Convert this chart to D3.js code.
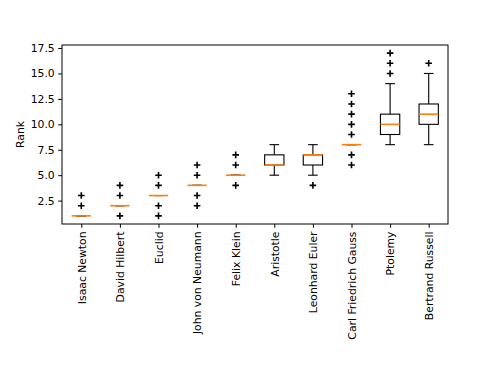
<!DOCTYPE html>
<html>
<head>
<meta charset="utf-8">
<script src="https://cdn.jsdelivr.net/npm/d3@7"></script>
<style>
  html, body { margin: 0; padding: 0; background: #fff; }
  svg { display: block; font-family: "DejaVu Sans", sans-serif; }
</style>
</head>
<body>
<div id="chart"></div>
<script>
// ── Data ────────────────────────────────────────────────────────────────────
const NAMES = ['Isaac Newton', 'David Hilbert', 'Euclid', 'John von Neumann', 'Felix Klein',
  'Aristotle', 'Leonhard Euler', 'Carl Friedrich Gauss', 'Ptolemy', 'Bertrand Russell'];
const MEDIANS  = [1, 2, 3, 4, 5, 6, 7, 8, 10, 11];
const Q1       = [1, 2, 3, 4, 5, 6, 6, 8, 9, 10];
const Q3       = [1, 2, 3, 4, 5, 7, 7, 8, 11, 12];
const WHIS_LO  = [1, 2, 3, 4, 5, 5, 5, 8, 8, 8];
const WHIS_HI  = [1, 2, 3, 4, 5, 8, 8, 8, 14, 15];
const FLIERS   = [
  [2, 3],
  [1, 3, 4],
  [1, 2, 4, 5],
  [2, 3, 5, 6],
  [4, 6, 7],
  [],
  [4],
  [6, 7, 9, 10, 11, 12, 13],
  [15, 16, 17],
  [16]
];
const Y_TICKS = [2.5, 5.0, 7.5, 10.0, 12.5, 15.0, 17.5];

// ── Layout ──────────────────────────────────────────────────────────────────
const width = 498, height = 374;
const margin = { top: 45, right: 50, bottom: 150, left: 62 };
const innerW = width - margin.left - margin.right;
const innerH = height - margin.top - margin.bottom;

const svg = d3.select('#chart').append('svg')
  .attr('width', width)
  .attr('height', height);

const g = svg.append('g')
  .attr('transform', `translate(${margin.left},${margin.top})`);

const xScale = d3.scaleLinear().domain([0.5, NAMES.length + 0.5]).range([0, innerW]);
const yScale = d3.scaleLinear().domain([0.2, 17.8]).range([innerH, 0]);

const boxW = xScale(1.5) - xScale(1);      // box width = 0.5 units
const capW = boxW / 2;                      // caps are half the box

// Axes
g.append('g')
  .call(d3.axisLeft(yScale).tickValues(Y_TICKS).tickFormat(d => d.toFixed(1)).tickSize(3.8).tickPadding(3.5))
  .call(ax => ax.select('.domain').remove())
  .call(ax => ax.selectAll('.tick line').attr('stroke', '#000').attr('stroke-width', 1))
  .call(ax => ax.selectAll('text').attr('font-size', 10.8).attr('fill', '#000')
    .attr('font-family', '"DejaVu Sans", sans-serif'));

const xAxis = g.append('g')
  .attr('transform', `translate(0,${innerH})`)
  .call(d3.axisBottom(xScale).tickValues(d3.range(1, NAMES.length + 1))
    .tickFormat((d, i) => NAMES[i]).tickSize(3.8).tickPadding(3.5))
  .call(ax => ax.select('.domain').remove())
  .call(ax => ax.selectAll('.tick line').attr('stroke', '#000').attr('stroke-width', 1));

xAxis.selectAll('text')
  .attr('font-size', 10.8)
  .attr('fill', '#000')
  .attr('font-family', '"DejaVu Sans", sans-serif')
  .attr('text-anchor', 'end')
  .attr('y', 0)
  .attr('dy', '0.35em')
  .attr('transform', 'translate(0,7.5) rotate(-90)');

// Boxes
NAMES.forEach((name, i) => {
  const cx = xScale(i + 1);
  const grp = g.append('g');

  // whiskers
  grp.append('line')
    .attr('x1', cx).attr('x2', cx)
    .attr('y1', yScale(Q1[i])).attr('y2', yScale(WHIS_LO[i]))
    .attr('stroke', '#000').attr('stroke-width', 1.1);
  grp.append('line')
    .attr('x1', cx).attr('x2', cx)
    .attr('y1', yScale(Q3[i])).attr('y2', yScale(WHIS_HI[i]))
    .attr('stroke', '#000').attr('stroke-width', 1.1);
  [WHIS_LO[i], WHIS_HI[i]].forEach(v => {
    grp.append('line')
      .attr('x1', cx - capW / 2).attr('x2', cx + capW / 2)
      .attr('y1', yScale(v)).attr('y2', yScale(v))
      .attr('stroke', '#000').attr('stroke-width', 1.1);
  });

  // box
  if (Q3[i] > Q1[i]) {
    grp.append('rect')
      .attr('x', cx - boxW / 2)
      .attr('y', yScale(Q3[i]))
      .attr('width', boxW)
      .attr('height', yScale(Q1[i]) - yScale(Q3[i]))
      .attr('fill', 'none')
      .attr('stroke', '#000').attr('stroke-width', 1.1);
  }

  // median
  grp.append('line')
    .attr('x1', cx - boxW / 2).attr('x2', cx + boxW / 2)
    .attr('y1', yScale(MEDIANS[i])).attr('y2', yScale(MEDIANS[i]))
    .attr('stroke', '#ff7f0e').attr('stroke-width', 1.6);

  // fliers
  grp.selectAll('.flier')
    .data(FLIERS[i])
    .enter()
    .append('path')
    .attr('class', 'flier')
    .attr('d', d => `M${cx - 3.3},${yScale(d)}H${cx + 3.3}M${cx},${yScale(d) - 3.3}V${yScale(d) + 3.3}`)
    .attr('stroke', '#000')
    .attr('stroke-width', 1.6)
    .attr('fill', 'none');
});

// Frame
g.append('rect')
  .attr('width', innerW).attr('height', innerH)
  .attr('fill', 'none').attr('stroke', '#000').attr('stroke-width', 1);

// Y label
svg.append('text')
  .attr('transform', `translate(${20},${margin.top + innerH / 2}) rotate(-90)`)
  .attr('text-anchor', 'middle')
  .attr('dy', '0.35em')
  .attr('font-size', 10.8)
  .attr('fill', '#000')
  .text('Rank');
</script>
</body>
</html>
